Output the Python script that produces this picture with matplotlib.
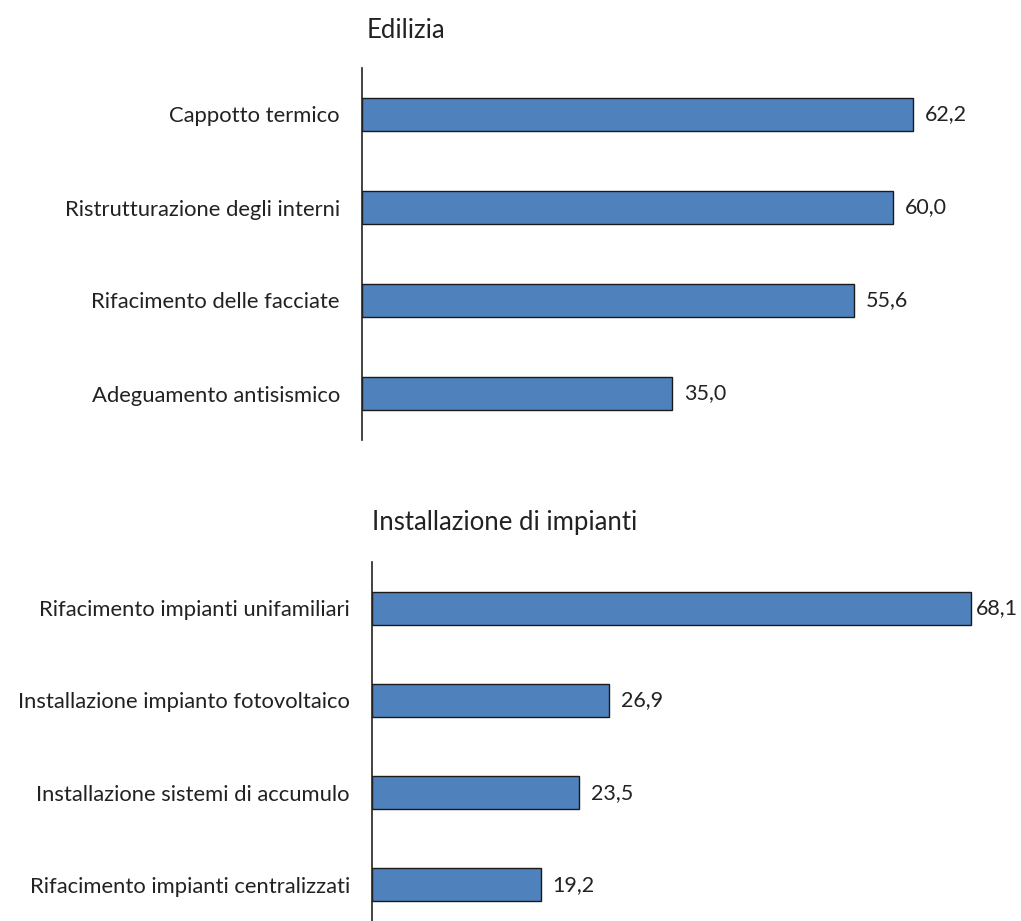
import matplotlib.pyplot as plt

plt.rcParams['font.family'] = ['Lato', 'DejaVu Sans']

edilizia_labels = ['Cappotto termico', 'Ristrutturazione degli interni',
                   'Rifacimento delle facciate', 'Adeguamento antisismico']
edilizia_values = [62.2, 60.0, 55.6, 35.0]

impianti_labels = ['Rifacimento impianti unifamiliari', 'Installazione impianto fotovoltaico',
                   'Installazione sistemi di accumulo', 'Rifacimento impianti centralizzati']
impianti_values = [68.1, 26.9, 23.5, 19.2]

bar_color = '#4F81BD'
text_color = '#222222'
W, H = 1021, 921
fig = plt.figure(figsize=(W / 100, H / 100), dpi=100)


def panel(rect, labels, values):
    ax = fig.add_axes(rect)
    y = list(range(len(values)))
    ax.barh(y, values, height=0.36, color=bar_color, edgecolor='#1a1a1a', linewidth=1.0)
    ax.set_ylim(len(values) - 0.5, -0.5)
    ax.set_xlim(0, 70)
    ax.set_yticks(y)
    ax.set_yticklabels(labels, fontsize=15.8, color=text_color)
    ax.tick_params(axis='y', length=0, pad=16)
    ax.set_xticks([])
    for s in ['top', 'right', 'bottom']:
        ax.spines[s].set_visible(False)
    ax.spines['left'].set_color(text_color)
    ax.spines['left'].set_linewidth(1.2)
    for yi, v in zip(y, values):
        # the longest bar sits right at the figure edge, so its label hugs the bar
        pad = 3 if v > 65 else 8.5
        ax.annotate(f'{v:.1f}'.replace('.', ','), (v, yi), xytext=(pad, 0),
                    textcoords='offset points', va='center', ha='left',
                    fontsize=15.5, color=text_color)
    return ax


top = panel([362 / W, (H - 440) / H, 620 / W, 372 / H], edilizia_labels, edilizia_values)
bot = panel([372 / W, (H - 931) / H, 616 / W, 369 / H], impianti_labels, impianti_values)

fig.text(367 / W, 1 - 30 / H, 'Edilizia', fontsize=18.5, color=text_color, va='center', ha='left')
fig.text(372 / W, 1 - 522 / H, 'Installazione di impianti', fontsize=18.5, color=text_color,
         va='center', ha='left')

fig.savefig('out.png', dpi=100, facecolor='white')
